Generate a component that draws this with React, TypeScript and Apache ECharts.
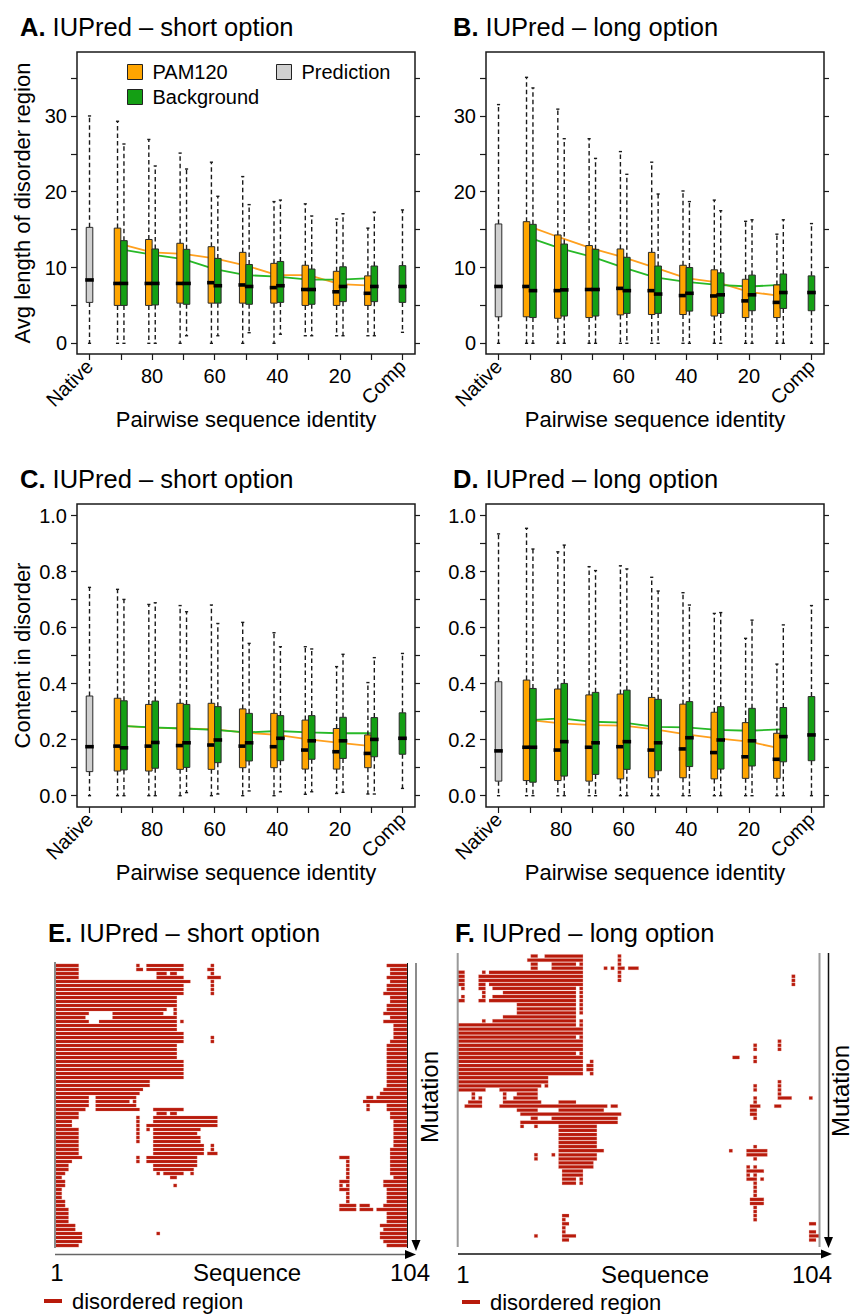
import React, { useEffect, useRef } from "react";
import * as echarts from "echarts";

const FONT = "'Liberation Sans', Arial, Helvetica, sans-serif";
const ORANGE = "#FFA500";
const GREEN = "#149F14";
const GRAY = "#D0D0D0";
const ORANGE_LINE = "#FFA01E";
const GREEN_LINE = "#27B927";
const RED = "#B81A0B";
const INK = "#1a1a1a";

// ---------- box-plot data ----------
const groupLabels = ["Native", "90", "80", "70", "60", "50", "40", "30", "20", "10", "Comp"];
const numericLabelIdx = [2, 4, 6, 8];
const rotatedLabelIdx = [0, 10];
const lenTicks = [0, 5, 10, 15, 20, 25, 30, 35];
const lenLabels = [0, 10, 20, 30];
const fracTicks = [0, 0.1, 0.2, 0.3, 0.4, 0.5, 0.6, 0.7, 0.8, 0.9, 1.0];
const fracLabels = [0, 0.2, 0.4, 0.6, 0.8, 1.0];

// each box: [low whisker, Q1, median, Q3, high whisker]
const nativeA = [0, 5.4, 8.36, 15.3, 30.0];
const pamA = [
  [0, 5.0, 7.9, 15.2, 29.3],
  [0, 5.0, 7.9, 13.7, 26.9],
  [0, 5.3, 7.9, 13.2, 25.1],
  [0, 5.3, 8.0, 12.75, 23.9],
  [0, 5.3, 7.7, 12.0, 22.0],
  [0, 5.3, 7.35, 10.55, 18.7],
  [1.0, 5.0, 7.1, 10.3, 18.4],
  [1.0, 5.0, 6.8, 9.5, 16.4],
  [1.0, 5.0, 6.6, 8.9, 15.2],
];
const bgA = [
  [0, 5.0, 7.9, 13.55, 26.3],
  [0, 5.06, 7.9, 12.45, 23.4],
  [1.0, 5.15, 7.9, 12.4, 23.0],
  [1.0, 5.3, 7.6, 11.2, 19.4],
  [1.4, 5.15, 7.5, 10.4, 18.3],
  [1.2, 5.4, 7.6, 10.8, 18.9],
  [1.0, 5.15, 7.1, 9.8, 16.8],
  [1.0, 5.5, 7.5, 10.1, 17.1],
  [1.0, 5.5, 7.5, 10.2, 17.3],
];
const compA = [1.45, 5.4, 7.5, 10.25, 17.6];
const meanPamA = [13.1, 12.0, 11.8, 11.2, 10.25, 9.0, 9.0, 7.8, 7.6];
const meanBgA = [12.4, 11.7, 11.1, 9.8, 9.0, 8.8, 8.4, 8.4, 8.6];

const nativeB = [0, 3.5, 7.5, 15.75, 31.5];
const pamB = [
  [0, 3.5, 7.5, 16.05, 35.1],
  [0, 3.3, 6.95, 14.3, 30.9],
  [0, 3.4, 7.1, 12.9, 27.0],
  [0, 3.75, 7.25, 12.45, 25.3],
  [0, 3.8, 6.95, 12.0, 23.9],
  [0, 3.8, 6.3, 10.3, 20.1],
  [0, 3.6, 6.25, 9.7, 18.9],
  [0, 3.4, 5.6, 8.45, 16.1],
  [0, 3.4, 5.4, 7.7, 14.4],
];
const bgB = [
  [0, 3.4, 6.95, 15.7, 33.7],
  [0, 3.6, 7.05, 13.1, 27.0],
  [0, 3.6, 7.1, 12.4, 24.4],
  [0, 3.95, 6.95, 11.35, 22.3],
  [0, 3.95, 6.5, 10.2, 19.7],
  [0, 4.25, 6.6, 10.0, 18.7],
  [0, 3.95, 6.4, 9.3, 17.5],
  [0, 4.3, 6.4, 9.0, 16.3],
  [0, 4.6, 6.7, 9.15, 16.3],
];
const compB = [0, 4.3, 6.7, 8.9, 15.8];
const meanPamB = [15.4, 13.9, 12.5, 11.35, 10.0, 8.6, 8.05, 6.8, 6.25];
const meanBgB = [13.9, 12.5, 11.4, 10.0, 8.7, 8.1, 7.7, 7.5, 7.7];

const nativeC = [0, 0.086, 0.175, 0.356, 0.744];
const pamC = [
  [0, 0.088, 0.177, 0.348, 0.737],
  [0, 0.088, 0.177, 0.326, 0.683],
  [0, 0.094, 0.179, 0.33, 0.679],
  [0, 0.094, 0.181, 0.33, 0.681],
  [0, 0.1, 0.177, 0.31, 0.619],
  [0, 0.1, 0.175, 0.294, 0.582],
  [0.005, 0.095, 0.163, 0.27, 0.532],
  [0.008, 0.095, 0.157, 0.24, 0.461],
  [0.006, 0.1, 0.151, 0.217, 0.404],
];
const bgC = [
  [0, 0.092, 0.171, 0.339, 0.701],
  [0, 0.098, 0.19, 0.338, 0.689],
  [0.011, 0.101, 0.189, 0.326, 0.657],
  [0.006, 0.118, 0.199, 0.318, 0.615],
  [0.017, 0.124, 0.189, 0.294, 0.544],
  [0.014, 0.125, 0.205, 0.286, 0.532],
  [0.014, 0.13, 0.196, 0.286, 0.524],
  [0.012, 0.133, 0.196, 0.28, 0.505],
  [0.006, 0.139, 0.201, 0.279, 0.493],
];
const compC = [0.026, 0.148, 0.205, 0.296, 0.508];
const meanPamC = [0.249, 0.243, 0.24, 0.237, 0.225, 0.217, 0.201, 0.189, 0.177];
const meanBgC = [0.249, 0.244, 0.24, 0.235, 0.226, 0.231, 0.226, 0.223, 0.223];

const nativeD = [0, 0.052, 0.16, 0.407, 0.935];
const pamD = [
  [0, 0.054, 0.173, 0.413, 0.955],
  [0, 0.054, 0.163, 0.381, 0.871],
  [0, 0.052, 0.173, 0.36, 0.818],
  [0, 0.06, 0.175, 0.363, 0.821],
  [0, 0.064, 0.163, 0.351, 0.78],
  [0, 0.064, 0.167, 0.327, 0.725],
  [0, 0.06, 0.154, 0.298, 0.651],
  [0, 0.062, 0.139, 0.261, 0.562],
  [0, 0.062, 0.13, 0.223, 0.47],
];
const bgD = [
  [0, 0.048, 0.173, 0.383, 0.881],
  [0, 0.07, 0.193, 0.401, 0.895],
  [0, 0.076, 0.189, 0.369, 0.804],
  [0, 0.094, 0.193, 0.377, 0.81],
  [0, 0.089, 0.189, 0.344, 0.731],
  [0, 0.104, 0.207, 0.336, 0.681],
  [0, 0.095, 0.199, 0.318, 0.654],
  [0, 0.106, 0.196, 0.312, 0.627],
  [0, 0.121, 0.211, 0.315, 0.61],
];
const compD = [0, 0.125, 0.217, 0.354, 0.679];
const meanPamD = [0.27, 0.258, 0.252, 0.25, 0.237, 0.219, 0.205, 0.193, 0.169];
const meanBgD = [0.27, 0.276, 0.264, 0.261, 0.246, 0.244, 0.235, 0.232, 0.237];

// ---------- disorder maps: per mutation row, [start, end) residue spans ----------
const rowsE: number[][][] = [
  [[0, 7], [24, 25], [27, 38], [46, 47], [98, 104]],
  [[0, 7], [24, 26], [27, 38], [45, 47], [99, 104]],
  [[0, 7], [30, 33], [34, 36], [46, 47], [99, 104]],
  [[0, 7], [30, 38], [45, 49], [98, 104]],
  [[0, 40], [46, 47], [99, 104]],
  [[0, 38], [46, 47], [98, 104]],
  [[0, 38], [46, 47], [98, 104]],
  [[0, 38], [46, 47], [97, 104]],
  [[0, 36], [99, 104]],
  [[0, 36], [99, 104]],
  [[0, 36], [98, 104]],
  [[0, 33], [35, 36], [98, 104]],
  [[0, 10], [17, 32], [35, 36], [97, 104]],
  [[0, 9], [17, 36], [99, 104]],
  [[0, 10], [13, 36], [37, 38], [97, 104]],
  [[0, 36], [100, 104]],
  [[0, 36], [100, 104]],
  [[0, 38], [100, 104]],
  [[0, 38], [46, 47], [100, 104]],
  [[0, 38], [46, 47], [99, 104]],
  [[0, 36], [98, 104]],
  [[0, 36], [98, 104]],
  [[0, 36], [98, 104]],
  [[0, 36], [98, 104]],
  [[0, 38], [98, 104]],
  [[0, 38], [98, 104]],
  [[0, 38], [98, 104]],
  [[0, 38], [98, 104]],
  [[0, 38], [98, 104]],
  [[0, 28], [98, 104]],
  [[0, 28], [98, 104]],
  [[0, 26], [97, 104]],
  [[0, 25], [96, 104]],
  [[0, 10], [12, 24], [92, 94], [95, 104]],
  [[0, 10], [12, 22], [23, 24], [91, 104]],
  [[0, 10], [12, 24], [92, 93], [98, 104]],
  [[0, 9], [12, 25], [29, 38], [92, 93], [98, 104]],
  [[0, 7], [30, 33], [34, 36], [99, 104]],
  [[0, 7], [24, 25], [29, 48], [99, 104]],
  [[0, 5], [24, 25], [29, 48], [100, 104]],
  [[0, 5], [24, 25], [27, 48], [100, 104]],
  [[0, 7], [24, 25], [27, 28], [29, 43], [100, 104]],
  [[0, 7], [24, 25], [29, 42], [100, 104]],
  [[0, 7], [24, 25], [29, 43], [100, 104]],
  [[0, 7], [24, 25], [29, 43], [100, 104]],
  [[0, 7], [29, 44], [46, 47], [100, 104]],
  [[0, 7], [29, 44], [46, 47], [99, 104]],
  [[0, 7], [29, 44], [45, 48], [99, 104]],
  [[0, 8], [24, 25], [27, 42], [84, 87], [99, 104]],
  [[0, 5], [24, 25], [27, 42], [86, 87], [99, 104]],
  [[0, 4], [29, 42], [86, 87], [99, 104]],
  [[0, 4], [29, 41], [86, 87], [99, 104]],
  [[0, 3], [30, 31], [32, 38], [40, 41], [86, 87], [99, 104]],
  [[0, 2], [34, 36], [86, 87], [100, 104]],
  [[0, 3], [84, 87], [97, 104]],
  [[0, 3], [35, 36], [84, 85], [86, 87], [97, 104]],
  [[0, 2], [84, 87], [98, 104]],
  [[0, 2], [86, 87], [98, 104]],
  [[0, 2], [86, 87], [98, 104]],
  [[0, 3], [86, 87], [98, 104]],
  [[0, 3], [84, 89], [90, 93], [97, 104]],
  [[0, 4], [84, 89], [90, 94], [95, 104]],
  [[0, 4], [98, 104]],
  [[0, 4], [98, 104]],
  [[0, 4], [98, 104]],
  [[0, 6], [96, 104]],
  [[0, 6], [97, 104]],
  [[0, 8], [30, 31], [96, 104]],
  [[0, 8], [96, 104]],
  [[0, 8], [97, 104]],
  [[0, 7], [98, 104]],
];

const rowsF: number[][][] = [
  [[21, 23], [25, 36], [46, 47]],
  [[20, 36], [46, 47]],
  [[21, 23], [27, 34], [35, 36], [46, 47]],
  [[21, 23], [27, 36], [42, 43], [44, 45], [46, 48], [49, 52]],
  [[0, 2], [7, 8], [9, 36], [46, 47]],
  [[0, 2], [6, 36], [46, 47], [96, 97]],
  [[0, 2], [6, 36], [46, 47], [96, 97]],
  [[0, 2], [6, 8], [9, 36], [96, 97]],
  [[1, 2], [6, 8], [10, 34], [35, 36]],
  [[7, 8], [13, 34], [35, 36]],
  [[1, 2], [7, 8], [10, 34], [35, 36]],
  [[0, 2], [6, 8], [9, 34], [35, 36]],
  [[17, 34], [35, 36]],
  [[17, 34], [35, 36]],
  [[17, 34], [35, 36]],
  [[13, 34]],
  [[7, 8], [10, 34], [35, 36]],
  [[0, 34], [35, 36]],
  [[0, 36]],
  [[0, 36]],
  [[0, 34], [35, 36]],
  [[0, 36], [92, 93]],
  [[0, 36], [85, 86], [92, 93]],
  [[0, 36], [85, 86], [92, 93]],
  [[0, 34], [35, 36]],
  [[0, 36], [79, 81], [85, 86]],
  [[0, 36], [38, 39], [85, 86]],
  [[0, 36], [37, 39]],
  [[0, 36], [37, 39]],
  [[0, 36], [38, 39]],
  [[0, 26]],
  [[0, 26], [92, 93]],
  [[0, 24], [25, 26], [85, 86], [92, 93]],
  [[0, 8], [12, 23], [85, 86], [92, 93]],
  [[4, 5], [13, 14], [17, 23], [92, 93]],
  [[4, 5], [6, 7], [13, 14], [16, 23], [85, 86], [92, 96], [101, 102]],
  [[3, 7], [13, 24], [29, 34], [85, 86]],
  [[2, 7], [12, 43], [44, 46], [84, 87], [91, 93]],
  [[17, 23], [29, 42], [84, 86]],
  [[18, 47], [84, 86]],
  [[21, 23], [27, 46], [85, 86]],
  [[18, 46]],
  [[18, 19], [22, 23], [29, 40]],
  [[29, 40]],
  [[29, 40]],
  [[29, 40]],
  [[29, 40]],
  [[29, 40], [85, 86]],
  [[29, 42], [78, 79], [83, 89]],
  [[22, 23], [27, 28], [29, 40], [83, 89]],
  [[22, 23], [29, 40], [85, 86]],
  [[29, 39]],
  [[29, 39], [83, 84], [85, 86]],
  [[30, 36], [83, 88]],
  [[30, 36], [83, 84], [85, 86]],
  [[30, 34], [35, 36], [83, 86], [87, 88]],
  [[30, 34], [35, 36], [85, 86]],
  [[85, 86]],
  [[85, 86]],
  [[85, 86]],
  [[84, 88]],
  [[84, 88]],
  [[85, 86]],
  [[85, 86]],
  [[30, 32], [85, 86]],
  [[30, 31], [85, 86]],
  [[30, 32], [101, 103]],
  [[30, 31]],
  [[30, 31], [101, 103]],
  [[22, 23], [30, 34], [101, 104]],
  [[30, 32], [101, 103]],
];
const SEQ_LEN = 104;

// ---------- layout (not data) ----------
const BOX_W = 0.21;
const PAM_SHIFT = -0.105;
const BG_SHIFT = 0.1;
const X_MIN = -0.4;
const X_MAX = 10.4;

function renderBox(params: any, api: any) {
  const x = api.value(0);
  const low = api.coord([x, api.value(1)]);
  const q1 = api.coord([x, api.value(2)]);
  const med = api.coord([x, api.value(3)]);
  const q3 = api.coord([x, api.value(4)]);
  const high = api.coord([x, api.value(5)]);
  const w = api.size([BOX_W, 0])[0];
  const cx = low[0];
  const half = w / 2;
  const cap = w * 0.24;
  const fill = api.visual("color");
  const dash = { stroke: INK, lineWidth: 1.4, lineDash: [4.5, 3], fill: "none" };
  const solid = { stroke: INK, lineWidth: 1.4, fill: "none" };
  return {
    type: "group",
    children: [
      { type: "line", shape: { x1: cx, y1: q3[1], x2: cx, y2: high[1] }, style: dash },
      { type: "line", shape: { x1: cx, y1: q1[1], x2: cx, y2: low[1] }, style: dash },
      { type: "line", shape: { x1: cx - cap, y1: high[1], x2: cx + cap, y2: high[1] }, style: solid },
      { type: "line", shape: { x1: cx - cap, y1: low[1], x2: cx + cap, y2: low[1] }, style: solid },
      {
        type: "rect",
        shape: { x: cx - half, y: q3[1], width: w, height: q1[1] - q3[1] },
        style: { fill, stroke: "#2a2a2a", lineWidth: 1 },
      },
      {
        type: "line",
        shape: { x1: cx - half - 1, y1: med[1], x2: cx + half + 1, y2: med[1] },
        style: { stroke: "#000", lineWidth: 3.6 },
      },
    ],
  };
}

function renderSpan(params: any, api: any) {
  const row = api.value(0);
  const a = api.coord([api.value(1), row]);
  const b = api.coord([api.value(2), row + 1]);
  const h = b[1] - a[1];
  return {
    type: "rect",
    shape: { x: a[0], y: a[1] + h * 0.1, width: b[0] - a[0], height: h * 0.8 },
    style: { fill: api.visual("color"), stroke: "rgba(230,150,140,0.6)", lineWidth: 0.4 },
  };
}

const tl = (v: number) => groupLabels[Math.round(v)];

function addBoxPanel(opt: any, cfg: any) {
  const g = opt.grid.length;
  opt.grid.push({
    left: cfg.left, top: cfg.top, width: cfg.width, height: cfg.height,
    show: true, borderColor: INK, borderWidth: 1.5, backgroundColor: "transparent",
  });
  const xi = opt.xAxis.length;
  const txt = { fontFamily: FONT, color: "#000" };
  opt.xAxis.push({
    gridIndex: g, type: "value", min: X_MIN, max: X_MAX, position: "bottom",
    axisLine: { show: false, onZero: false }, splitLine: { show: false },
    axisTick: { show: true, length: 6, customValues: groupLabels.map((_, i) => i), lineStyle: { color: INK, width: 1.2 } },
    axisLabel: { customValues: numericLabelIdx, formatter: tl, fontSize: 20, margin: 12, ...txt },
    name: "Pairwise sequence identity", nameLocation: "middle", nameGap: 54,
    nameTextStyle: { fontSize: 22, ...txt },
  });
  opt.xAxis.push({
    gridIndex: g, type: "value", min: X_MIN, max: X_MAX, position: "bottom",
    axisLine: { show: false, onZero: false }, axisTick: { show: false }, splitLine: { show: false },
    axisLabel: { customValues: rotatedLabelIdx, formatter: tl, rotate: 45, fontSize: 20, margin: 9, ...txt },
  });
  const yi = opt.yAxis.length;
  opt.yAxis.push({
    gridIndex: g, type: "value", min: cfg.yMin, max: cfg.yMax, position: "left",
    axisLine: { show: false, onZero: false }, splitLine: { show: false },
    axisTick: { show: true, length: 6, customValues: cfg.ticks, lineStyle: { color: INK, width: 1.2 } },
    axisLabel: { customValues: cfg.labels, formatter: cfg.fmt, fontSize: 20, margin: 10, ...txt },
    name: cfg.yName || "", nameLocation: "middle", nameGap: 44,
    nameTextStyle: { fontSize: 22, ...txt },
  });
  opt.yAxis.push({
    gridIndex: g, type: "value", min: cfg.yMin, max: cfg.yMax, position: "right",
    axisLine: { show: false, onZero: false }, splitLine: { show: false },
    axisTick: { show: true, length: 5, customValues: cfg.ticks, lineStyle: { color: INK, width: 1.2 } },
    axisLabel: { show: false },
  });
  const common = { xAxisIndex: xi, yAxisIndex: yi };
  opt.series.push(
    {
      ...common, type: "line", name: "PAM120 mean", silent: true, z: 2, symbol: "none",
      lineStyle: { color: ORANGE_LINE, width: 1.8 },
      data: cfg.meanPam.map((v: number, i: number) => [i + 1, v]),
    },
    {
      ...common, type: "line", name: "Background mean", silent: true, z: 2, symbol: "none",
      lineStyle: { color: GREEN_LINE, width: 1.8 },
      data: cfg.meanBg.map((v: number, i: number) => [i + 1, v]),
    },
    {
      ...common, type: "custom", name: "Prediction", z: 3, renderItem: renderBox,
      itemStyle: { color: GRAY }, encode: { x: 0, y: [1, 2, 3, 4, 5] },
      data: [[0, ...cfg.native]],
    },
    {
      ...common, type: "custom", name: "PAM120", z: 3, renderItem: renderBox,
      itemStyle: { color: ORANGE }, encode: { x: 0, y: [1, 2, 3, 4, 5] },
      data: cfg.pam.map((v: number[], i: number) => [i + 1 + PAM_SHIFT, ...v]),
    },
    {
      ...common, type: "custom", name: "Background", z: 3, renderItem: renderBox,
      itemStyle: { color: GREEN }, encode: { x: 0, y: [1, 2, 3, 4, 5] },
      data: [
        ...cfg.bg.map((v: number[], i: number) => [i + 1 + BG_SHIFT, ...v]),
        [10, ...cfg.comp],
      ],
    }
  );
}

function addMapPanel(opt: any, cfg: any, rows: number[][][]) {
  const g = opt.grid.length;
  opt.grid.push({ left: cfg.left, top: cfg.top, width: cfg.width, height: cfg.height, show: false });
  const xi = opt.xAxis.length;
  opt.xAxis.push({ gridIndex: g, type: "value", min: 0, max: SEQ_LEN, show: false });
  const yi = opt.yAxis.length;
  opt.yAxis.push({ gridIndex: g, type: "value", min: 0, max: rows.length, inverse: true, show: false });
  const data: number[][] = [];
  rows.forEach((segs, r) => segs.forEach(([s, e]) => data.push([r, s, e])));
  opt.series.push({
    type: "custom", name: "disordered region", xAxisIndex: xi, yAxisIndex: yi, z: 2,
    renderItem: renderSpan, itemStyle: { color: RED }, encode: { x: [1, 2], y: 0 }, data,
  });
}

function panelTitle(letter: string, text: string, left: number, top: number) {
  return {
    left, top, padding: 0,
    text: `{b|${letter}} ${text}`,
    textStyle: {
      fontSize: 25.5, fontFamily: FONT, fontWeight: "normal", color: "#000",
      rich: { b: { fontSize: 25.5, fontFamily: FONT, fontWeight: "bold", color: "#000" } },
    },
  };
}

function legendAt(name: string, left: number, top: number, size: number, w: number, h: number) {
  return {
    data: [name], left, top, padding: 0, icon: "rect", itemWidth: w, itemHeight: h,
    selectedMode: false,
    itemStyle: name === "disordered region" ? { borderWidth: 0 } : { borderColor: "#222", borderWidth: 1 },
    textStyle: { fontSize: size, fontFamily: FONT, color: "#000", padding: [0, 0, 0, 5] },
  };
}

function buildOption() {
  const opt: any = {
    animation: false,
    backgroundColor: "#fff",
    textStyle: { fontFamily: FONT },
    grid: [], xAxis: [], yAxis: [], series: [],
    title: [
      panelTitle("A.", "IUPred – short option", 20, 14),
      panelTitle("B.", "IUPred – long option", 453, 14),
      panelTitle("C.", "IUPred – short option", 20, 466),
      panelTitle("D.", "IUPred – long option", 453, 466),
      panelTitle("E.", "IUPred – short option", 48, 920),
      panelTitle("F.", "IUPred – long option", 455, 920),
    ],
    legend: [
      legendAt("PAM120", 127, 62, 20, 15, 15),
      legendAt("Prediction", 276, 62, 20, 15, 15),
      legendAt("Background", 127, 87, 20, 15, 15),
      legendAt("disordered region", 44, 1290, 22, 18, 4),
      legendAt("disordered region", 462, 1291, 22, 18, 4),
    ],
  };
  const fmtLen = (v: number) => String(Math.round(v));
  const fmtFrac = (v: number) => v.toFixed(1);
  addBoxPanel(opt, {
    left: 77, top: 52, width: 338, height: 302, yMin: -1.41, yMax: 38.44,
    ticks: lenTicks, labels: lenLabels, fmt: fmtLen, yName: "Avg length of disorder region",
    native: nativeA, pam: pamA, bg: bgA, comp: compA, meanPam: meanPamA, meanBg: meanBgA,
  });
  addBoxPanel(opt, {
    left: 486, top: 52, width: 338, height: 302, yMin: -1.41, yMax: 38.44,
    ticks: lenTicks, labels: lenLabels, fmt: fmtLen,
    native: nativeB, pam: pamB, bg: bgB, comp: compB, meanPam: meanPamB, meanBg: meanBgB,
  });
  addBoxPanel(opt, {
    left: 77, top: 504, width: 338, height: 303, yMin: -0.0404, yMax: 1.0418,
    ticks: fracTicks, labels: fracLabels, fmt: fmtFrac, yName: "Content in disorder",
    native: nativeC, pam: pamC, bg: bgC, comp: compC, meanPam: meanPamC, meanBg: meanBgC,
  });
  addBoxPanel(opt, {
    left: 486, top: 504, width: 338, height: 303, yMin: -0.0404, yMax: 1.0418,
    ticks: fracTicks, labels: fracLabels, fmt: fmtFrac,
    native: nativeD, pam: pamD, bg: bgD, comp: compD, meanPam: meanPamD, meanBg: meanBgD,
  });
  addMapPanel(opt, { left: 55, top: 963.5, width: 352, height: 284 }, rowsE);
  addMapPanel(opt, { left: 457.7, top: 954, width: 361.8, height: 288 }, rowsF);

  const t = (text: string, x: number, y: number, size: number, rot = 0) => ({
    type: "text", x, y, rotation: rot, z: 10,
    style: { text, fontSize: size, fontFamily: FONT, fill: "#000", align: "center", verticalAlign: "middle" },
  });
  const ln = (x1: number, y1: number, x2: number, y2: number, color: string, w: number) => ({
    type: "line", z: 10, shape: { x1, y1, x2, y2 }, style: { stroke: color, lineWidth: w },
  });
  const head = (pts: number[][]) => ({ type: "polygon", z: 10, shape: { points: pts }, style: { fill: "#000" } });
  opt.graphic = [
    // E frame and arrows
    ln(55, 962, 55, 1248, "#8a8a8a", 2),
    ln(407.5, 963, 407.5, 1248, "#111", 1),
    ln(416, 963, 416, 1243, "#666", 1.5),
    head([[411.5, 1240], [420.5, 1240], [416, 1251]]),
    ln(55, 1254.5, 407, 1254.5, "#666", 1.5),
    head([[405, 1250], [405, 1259], [416, 1254.5]]),
    t("Mutation", 429, 1097, 24, Math.PI / 2),
    t("1", 57, 1272, 24),
    t("Sequence", 247, 1272, 24),
    t("104", 410, 1272, 24),
    // F frame and arrows
    ln(457.7, 953, 457.7, 1247, "#9a9a9a", 2),
    ln(819.5, 953, 819.5, 1247, "#9a9a9a", 2),
    ln(828.5, 953, 828.5, 1240, "#111", 1.5),
    head([[824, 1237], [833, 1237], [828.5, 1248]]),
    ln(458, 1254, 822, 1254, "#111", 1.5),
    head([[821, 1249.5], [821, 1258.5], [832, 1254]]),
    t("Mutation", 840, 1091, 24, Math.PI / 2),
    t("1", 463, 1274, 24),
    t("Sequence", 655, 1274, 24),
    t("104", 812, 1274, 24),
  ];
  return opt;
}

export default function App() {
  const ref = useRef<HTMLDivElement>(null);
  useEffect(() => {
    const chart = echarts.init(ref.current as HTMLDivElement, null, { renderer: "svg" });
    chart.setOption(buildOption());
    return () => chart.dispose();
  }, []);
  return (
    <div
      ref={ref}
      style={{ position: "absolute", left: 0, top: 0, width: 853, height: 1314, background: "#fff" }}
    />
  );
}
